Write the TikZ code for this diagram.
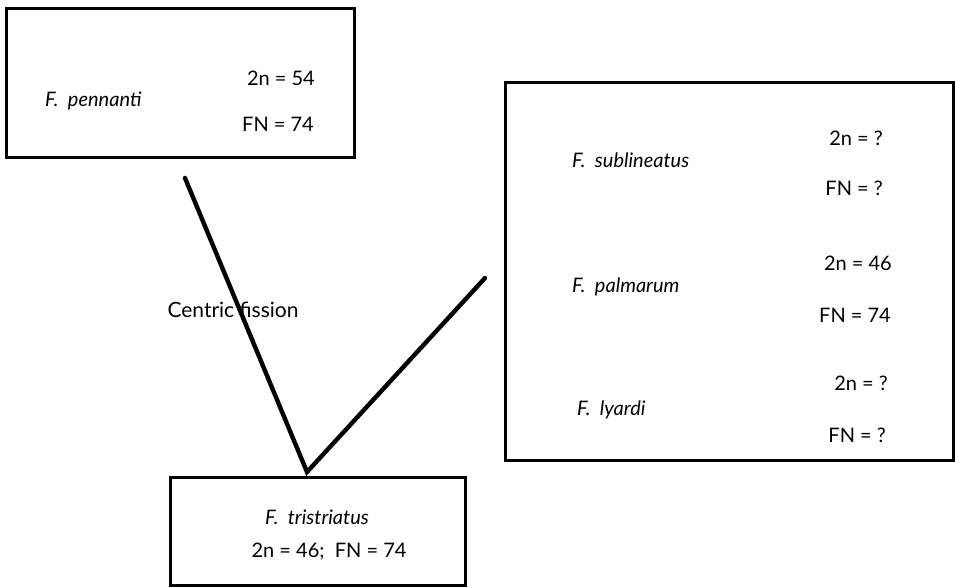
\documentclass[tikz,border=0pt]{standalone}
\usepackage{fontspec}
\setmainfont{Lato}
\usetikzlibrary{positioning,calc}

\begin{document}
\begin{tikzpicture}[
        x=1pt, y=-1pt,
        every node/.style={inner sep=0pt},
        box/.style={rectangle, draw=black, line width=3pt},
        species/.style={anchor=west, font=\fontsize{20}{22}\selectfont\itshape},
        count/.style={anchor=east, font=\fontsize{20}{22}\selectfont},
        stem/.style={line width=4.4pt, line cap=round, line join=miter}
    ]
        \useasboundingbox (0,0) rectangle (955,587);

        % Boxes
        \node[box, minimum width=348pt, minimum height=149pt] (pen) at (180,82.5) {};
        \node[box, minimum width=448pt, minimum height=378pt] (grp) at (729,271) {};
        \node[box, minimum width=295pt, minimum height=108pt] (tri) at (317.5,531) {};

        % F. pennanti
        \node[species] (pennanti) at (45,101) {F.\ \ pennanti};
        \node[count] (pen2n) at (315,78) {2n = 54};
        \node[count] (penFN) at (314,124) {FN = 74};

        % right group
        \node[species] (subl) at (572,160) {F.\ \ sublineatus};
        \node[count] (subl2n) at (883,138) {2n = ?};
        \node[count] (sublFN) at (883,188) {FN = ?};

        \node[species] (palm) at (572,287) {F.\ \ palmarum};
        \node[count] (palm2n) at (892,263) {2n = 46};
        \node[count] (palmFN) at (891,315) {FN = 74};

        \node[species] (lyar) at (577,410) {F.\ \ lyardi};
        \node[count] (lyar2n) at (888,383) {2n = ?};
        \node[count] (lyarFN) at (886,435) {FN = ?};

        % F. tristriatus
        \node[species, anchor=center] (tristr) at (317,517) {F.\ \ tristriatus};
        \node[count, anchor=center] (tricount) at (329,552) {2n = 46;\ \ FN = 74};

        % Connections
        \coordinate (pentail) at (185,178);
        \coordinate (vertex) at (307,472);
        \coordinate (grptail) at (485,278);
        \draw[stem] (pentail) -- (vertex) -- (grptail);

        \node[font=\fontsize{21}{23}\selectfont] (fission) at (233,310) {Centric fission};
\end{tikzpicture}
\end{document}
